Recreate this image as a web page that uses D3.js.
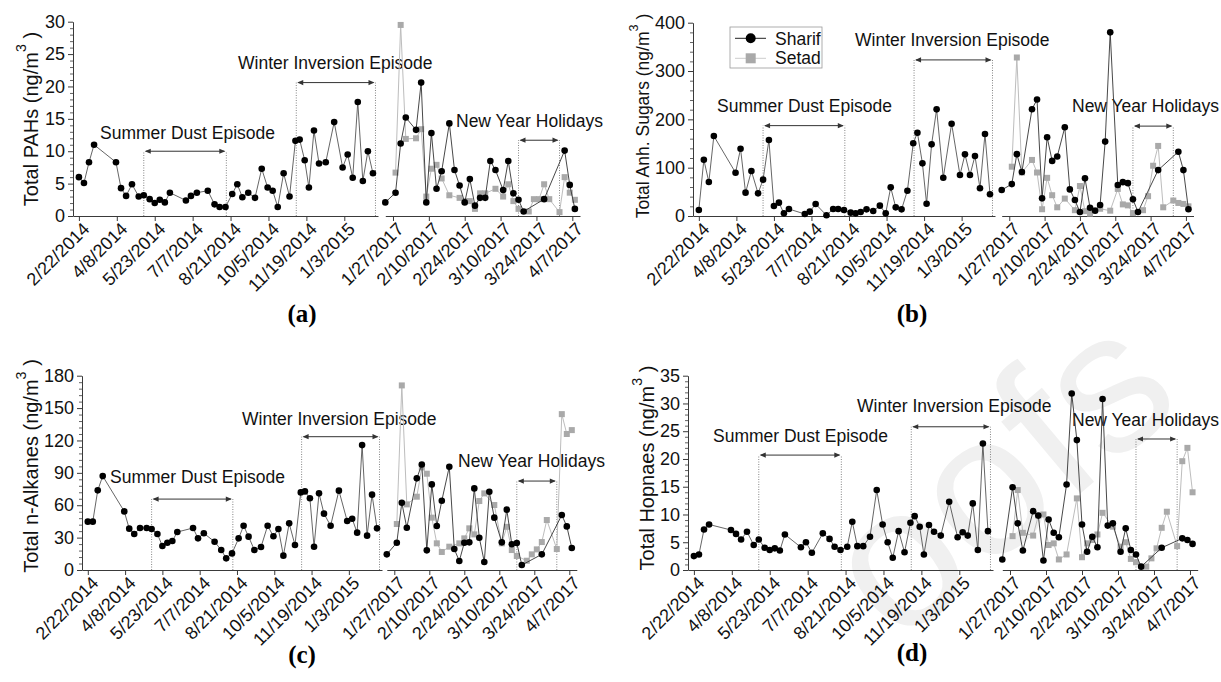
<!DOCTYPE html>
<html>
<head>
<meta charset="utf-8">
<script src="https://cdn.jsdelivr.net/npm/d3@7"></script>
<style>
  body { margin: 0; background: #fff; }
  svg { font-family: "Liberation Sans", Arial, sans-serif; }
</style>
</head>
<body>
<svg id="chart" width="1221" height="682"></svg>
<script>
// ---- sampling dates ----
var dates2014 = ["2014-02-22","2014-02-28","2014-03-06","2014-03-12","2014-04-07","2014-04-13","2014-04-19","2014-04-26",
  "2014-05-04","2014-05-10","2014-05-17","2014-05-23","2014-05-29","2014-06-04","2014-06-10","2014-06-29","2014-07-05",
  "2014-07-12","2014-07-25","2014-08-02","2014-08-08","2014-08-15","2014-08-23","2014-08-29","2014-09-04","2014-09-11",
  "2014-09-19","2014-09-27","2014-10-04","2014-10-10","2014-10-16","2014-10-23","2014-10-30","2014-11-06","2014-11-11",
  "2014-11-17","2014-11-22","2014-11-28","2014-12-04","2014-12-12","2014-12-22","2015-01-01","2015-01-07","2015-01-13",
  "2015-01-19","2015-01-25","2015-01-31","2015-02-06"];
var sharifDates2017 = ["2017-01-24","2017-01-28","2017-01-30","2017-02-01","2017-02-05","2017-02-07","2017-02-09","2017-02-11",
  "2017-02-13","2017-02-15","2017-02-18","2017-02-20","2017-02-22","2017-02-24","2017-02-26","2017-02-28","2017-03-02",
  "2017-03-04","2017-03-06","2017-03-08","2017-03-11","2017-03-13","2017-03-15","2017-03-17","2017-03-19","2017-03-27",
  "2017-04-04","2017-04-06","2017-04-08"];
var setadDates2017 = ["2017-01-28","2017-01-30","2017-02-01","2017-02-05","2017-02-07","2017-02-09","2017-02-11","2017-02-13",
  "2017-02-15","2017-02-18","2017-02-22","2017-02-24","2017-02-26","2017-02-28","2017-03-02","2017-03-04","2017-03-08",
  "2017-03-11","2017-03-13","2017-03-15","2017-03-17","2017-03-21","2017-03-23","2017-03-25","2017-03-27","2017-03-29",
  "2017-04-02","2017-04-04","2017-04-06","2017-04-08"];

var ticks2014 = ["2/22/2014","4/8/2014","5/23/2014","7/7/2014","8/21/2014","10/5/2014","11/19/2014","1/3/2015"];
var ticks2017 = ["1/27/2017","2/10/2017","2/24/2017","3/10/2017","3/24/2017","4/7/2017"];

// episodes: label, start, end
var episodes = [
  ["Summer Dust Episode", "2014-05-10", "2014-08-16"],
  ["Winter Inversion Episode", "2014-11-07", "2015-02-09"],
  ["New Year Holidays", "2017-03-17", "2017-04-02"]
];

// ---- values ----
var pahs2014 = [6.0,5.1,8.3,11.0,8.3,4.3,3.1,4.9,3.0,3.2,2.6,2.0,2.5,2.1,3.6,2.4,3.1,3.6,3.9,1.8,1.4,1.4,3.4,4.9,
  2.9,3.6,2.8,7.3,4.4,3.9,1.4,6.6,3.0,11.6,11.8,8.6,4.4,13.2,8.1,8.3,14.5,7.5,9.5,5.9,17.6,5.4,10.0,6.6];
var pahsSharif2017 = [2.1,3.6,11.2,15.2,13.3,20.6,2.1,12.8,4.2,6.9,14.3,7.1,4.7,2.1,5.7,1.6,2.8,2.8,8.5,7.1,4.0,8.5,
  3.5,2.5,0.7,2.6,10.1,4.8,1.1];
var pahsSetad2017 = [6.7,29.5,11.9,12.0,13.4,3.0,7.3,7.9,5.8,3.2,2.8,2.3,2.3,1.1,3.5,3.5,4.2,3.0,4.9,2.3,1.1,0.7,
  2.6,2.6,4.9,2.6,0.6,6.0,3.6,2.5];

var sugars2014 = [12.4,116.5,70.3,165.5,89.6,139.3,48.3,93.1,46.9,75.2,157.2,20.7,27.6,5.5,14.5,4.1,9,24.8,1.4,14.5,
  14.5,12.4,6.9,5.5,8.3,13.8,10.3,21.4,5.5,59.3,17.9,13.8,52.4,150.4,172.4,109,25.5,148.3,220.7,79.3,191,84.8,127.6,
  84.8,124.1,57.3,169.7,44.9];
var sugarsSharif2017 = [53.8,66,128,91,221,241,36.5,163,114,123,183.5,55,33,8.3,78,17,11,22.8,154,380,64,70,68,34.5,
  8.3,95,133,95,14];
var sugarsSetad2017 = [102,328,90,116,90,14,79,43,18,36,12,62,10,5,12,15,11,56,24,22,6,12,41,104,145,18,32,27,25,20];

var alkanes2014 = [44.8,44.8,73.8,87,54.3,38.3,33.3,38.9,38.9,38,33.3,22.2,25.3,26.9,35.2,38.9,29.3,34,26.2,18.5,
  10.8,15.4,29.3,41,30.9,18.5,21.3,41,31.2,38,13.3,43.2,23.1,71.9,72.8,66.4,21.6,71,52.2,41,73.5,45.4,47.5,34.6,
  115.7,31.8,69.8,38.6];
var alkanesSharif2017 = [14.5,25.3,62.3,39.2,84.9,97.8,18.2,79.3,40.7,64.2,95.7,19.4,8.3,25.3,25.6,75.6,29.9,7.4,
  72.5,48.5,25.6,55.9,23.8,25,4.6,14.5,50.9,40.4,20.4];
var alkanesSetad2017 = [42.6,171,60.8,67.9,95,89.2,48.5,24.7,16.7,21.6,24.7,29.3,38.6,33,63.9,71,60.2,24.7,40,18.5,
  13,8.6,14.5,19.1,25.9,46.3,19.4,144.4,126,129.6];

var hopanes2014 = [2.5,2.8,7.3,8.2,7.2,6.5,5.5,6.9,4.5,5.5,4.0,3.6,3.9,3.5,6.4,4.1,5.0,3.1,6.6,5.6,4.2,3.6,4.2,8.7,
  4.3,4.3,6.0,14.4,8.2,5.0,2.2,7.0,3.2,8.5,9.7,7.8,2.8,8.1,6.9,6.2,12.3,5.9,6.8,6.2,12.0,3.6,22.8,7.0];
var hopanesSharif2017 = [1.9,14.9,8.4,3.5,10.6,9.8,1.7,9.1,6.7,5.9,15.4,31.8,23.4,8.2,3.3,6.0,4.1,30.8,8.0,8.4,3.3,
  7.5,3.6,2.8,0.6,4.0,5.7,5.4,4.7];
var hopanesSetad2017 = [6.1,14.4,6.7,6.2,9.8,10.0,4.5,4.8,1.9,2.8,12.9,2.3,4.8,5.4,6.4,10.3,7.8,4.2,5.0,2.0,1.4,0.6,
  2.1,3.9,7.6,10.5,4.3,19.6,22.0,14.0];

// ---- panel layout ----
var panels = [
  { tag: "(a)", title: "Total PAHs (ng/m", titleSize: 20, titleX: 38, titleY: 119,
    s14: pahs2014, s17: pahsSharif2017, t17: pahsSetad2017,
    yMax: 30, yStep: 5, yMinor: 1, y0: 216, y1: 21.7,
    left: [73, 378], right: [385.3, 580], tagX: 302, tagY: 322,
    notes: [[10, 100, 139], [20.6, 238, 69], [11.7, 456, 127]] },
  { tag: "(b)", title: "Total Anh. Sugars (ng/m", titleSize: 17.5, titleX: 649, titleY: 116,
    s14: sugars2014, s17: sugarsSharif2017, t17: sugarsSetad2017,
    yMax: 400, yStep: 100, yMinor: 20, y0: 216, y1: 22.7,
    left: [693, 995], right: [1001.7, 1193.5], tagX: 912, tagY: 322, legend: true,
    notes: [[187, 717, 112], [323, 855, 45.5], [186, 1072, 112]] },
  { tag: "(c)", title: "Total n-Alkanes (ng/m", titleSize: 20, titleX: 38, titleY: 466,
    s14: alkanes2014, s17: alkanesSharif2017, t17: alkanesSetad2017,
    yMax: 180, yStep: 30, yMinor: 6, y0: 570, y1: 375.7,
    left: [82, 382], right: [386.8, 576.8], tagX: 302, tagY: 663,
    notes: [[65.7, 110, 483], [123.5, 242, 425], [82.4, 458, 467]] },
  { tag: "(d)", title: "Total Hopnaes (ng/m", titleSize: 20, titleX: 654, titleY: 468,
    s14: hopanes2014, s17: hopanesSharif2017, t17: hopanesSetad2017,
    yMax: 35, yStep: 5, yMinor: 1, y0: 570, y1: 375.7,
    left: [688, 993], right: [1002.3, 1197.7], tagX: 912, tagY: 661,
    notes: [[20.7, 713, 442], [25.8, 857, 412], [23.6, 1072, 426]] }
];

var parseISO = d3.utcParse("%Y-%m-%d");
var parseLabel = d3.utcParse("%m/%d/%Y");
var domain14 = [parseISO("2014-02-15"), parseISO("2015-02-12")];
var domain17 = [parseISO("2017-01-24"), parseISO("2017-04-10")];

var svg = d3.select("#chart");

// faint "Proofs" watermark, only the glyphs that fall on the page
var wmSize = 200, wmAngle = 40, wmOrigin = [965, 590];
var wmLetters = [["o", -89], ["o", 22], ["f", 133], ["s", 189]];
var ca = Math.cos(wmAngle * Math.PI / 180), sa = Math.sin(wmAngle * Math.PI / 180);
wmLetters.forEach(function(l) {
  svg.append("text")
    .attr("transform", "translate(" + (wmOrigin[0] + l[1] * ca) + "," + (wmOrigin[1] - l[1] * sa) + ") rotate(-" + wmAngle + ")")
    .attr("fill", "#f0f0f0")
    .style("font-size", wmSize + "px")
    .text(l[0]);
});

var axisColor = "#3a3a3a";

panels.forEach(function(p) {
  var g = svg.append("g");
  var xL = d3.scaleUtc().domain(domain14).range(p.left);
  var xR = d3.scaleUtc().domain(domain17).range(p.right);
  var y = d3.scaleLinear().domain([0, p.yMax]).range([p.y0, p.y1]);

  // y axis (major + minor)
  var minorVals = d3.range(0, p.yMax + 0.001, p.yMinor).filter(function(v) { return Math.abs(v % p.yStep) > 1e-6; });
  g.append("g").attr("transform", "translate(" + p.left[0] + ",0)")
    .call(d3.axisLeft(y).tickValues(minorVals).tickSize(3).tickSizeOuter(0).tickFormat(""))
    .call(function(a) { a.select(".domain").remove(); a.selectAll("line").attr("stroke", axisColor).attr("stroke-width", 0.8); });
  g.append("g").attr("transform", "translate(" + p.left[0] + ",0)")
    .call(d3.axisLeft(y).tickValues(d3.range(0, p.yMax + 0.001, p.yStep)).tickSize(5).tickSizeOuter(0).tickPadding(3))
    .call(function(a) {
      a.select(".domain").attr("stroke", axisColor);
      a.selectAll("line").attr("stroke", axisColor);
      a.selectAll("text").attr("fill", "#111").style("font-size", "18px").style("font-family", "Liberation Sans, Arial, sans-serif");
    });

  // x axes
  function xAxis(scale, labels) {
    var ax = g.append("g").attr("transform", "translate(0," + p.y0 + ")")
      .call(d3.axisBottom(scale)
        .tickValues(labels.map(parseLabel))
        .tickFormat(function(d, i) { return labels[i]; })
        .tickSize(5).tickSizeOuter(0));
    ax.select(".domain").attr("stroke", axisColor);
    ax.selectAll("line").attr("stroke", axisColor);
    ax.selectAll("text")
      .attr("text-anchor", "end")
      .attr("x", 3).attr("y", 0).attr("dy", "0.72em")
      .attr("transform", "translate(0,7) rotate(-45)")
      .attr("fill", "#111")
      .style("font-size", "18px")
      .style("font-family", "Liberation Sans, Arial, sans-serif");
  }
  xAxis(xL, ticks2014);
  xAxis(xR, ticks2017);

  // episodes
  p.notes.forEach(function(n, i) {
    var ep = episodes[i];
    var sc = i < 2 ? xL : xR;
    var xa = sc(parseISO(ep[1])), xb = sc(parseISO(ep[2]));
    var ya = y(n[0]);
    [xa, xb].forEach(function(xx) {
      g.append("line").attr("x1", xx).attr("x2", xx).attr("y1", p.y0).attr("y2", ya)
        .attr("stroke", "#777").attr("stroke-width", 0.9).attr("stroke-dasharray", "1,1.5");
    });
    g.append("line").attr("x1", xa + 2).attr("x2", xb - 2).attr("y1", ya).attr("y2", ya)
      .attr("stroke", "#333").attr("stroke-width", 1);
    g.append("path").attr("d", "M" + (xa + 1) + "," + ya + "l6,-2.6v5.2z").attr("fill", "#333");
    g.append("path").attr("d", "M" + (xb - 1) + "," + ya + "l-6,-2.6v5.2z").attr("fill", "#333");
    g.append("text").attr("x", n[1]).attr("y", n[2]).attr("fill", "#111")
      .style("font-size", "17.5px").text(ep[0]);
  });

  // series
  var line14 = d3.line().x(function(d) { return xL(d.date); }).y(function(d) { return y(d.v); });
  var line17 = d3.line().x(function(d) { return xR(d.date); }).y(function(d) { return y(d.v); });
  var s14 = dates2014.map(function(d, i) { return { date: parseISO(d), v: p.s14[i] }; });
  var s17 = sharifDates2017.map(function(d, i) { return { date: parseISO(d), v: p.s17[i] }; });
  var t17 = setadDates2017.map(function(d, i) { return { date: parseISO(d), v: p.t17[i] }; });

  g.append("path").datum(t17).attr("d", line17).attr("fill", "none").attr("stroke", "#bdbdbd").attr("stroke-width", 1);
  g.selectAll(null).data(t17).enter().append("rect")
    .attr("x", function(d) { return xR(d.date) - 3; }).attr("y", function(d) { return y(d.v) - 3; })
    .attr("width", 6).attr("height", 6).attr("fill", "#a9a9a9");

  g.append("path").datum(s14).attr("d", line14).attr("fill", "none").attr("stroke", "#555").attr("stroke-width", 0.9);
  g.append("path").datum(s17).attr("d", line17).attr("fill", "none").attr("stroke", "#333").attr("stroke-width", 0.9);
  g.selectAll(null).data(s14).enter().append("circle")
    .attr("cx", function(d) { return xL(d.date); }).attr("cy", function(d) { return y(d.v); })
    .attr("r", 3.3).attr("fill", "#000");
  g.selectAll(null).data(s17).enter().append("circle")
    .attr("cx", function(d) { return xR(d.date); }).attr("cy", function(d) { return y(d.v); })
    .attr("r", 3.3).attr("fill", "#000");

  // y title
  var t = g.append("text")
    .attr("transform", "translate(" + p.titleX + "," + p.titleY + ") rotate(-90)")
    .attr("text-anchor", "middle").attr("fill", "#111")
    .style("font-size", p.titleSize + "px");
  t.append("tspan").text(p.title);
  t.append("tspan").attr("dy", -p.titleSize * 0.62).style("font-size", (p.titleSize * 0.72) + "px").text("3");
  t.append("tspan").attr("dy", p.titleSize * 0.62).text(" )");

  // panel tag
  g.append("text").attr("x", p.tagX).attr("y", p.tagY).attr("text-anchor", "middle")
    .style("font-family", "Liberation Serif, Times New Roman, serif").style("font-weight", "bold")
    .style("font-size", "25px").attr("fill", "#000").text(p.tag);

  // legend
  if (p.legend) {
    var lg = g.append("g");
    lg.append("rect").attr("x", 730).attr("y", 27).attr("width", 92).attr("height", 41)
      .attr("fill", "#fff").attr("stroke", "#999").attr("stroke-width", 0.8);
    lg.append("line").attr("x1", 735).attr("x2", 766).attr("y1", 38.3).attr("y2", 38.3).attr("stroke", "#222");
    lg.append("circle").attr("cx", 750.7).attr("cy", 38.3).attr("r", 5).attr("fill", "#000");
    lg.append("line").attr("x1", 735).attr("x2", 766).attr("y1", 58.3).attr("y2", 58.3).attr("stroke", "#ccc");
    lg.append("rect").attr("x", 745.7).attr("y", 53.3).attr("width", 10).attr("height", 10).attr("fill", "#a9a9a9");
    lg.append("text").attr("x", 775).attr("y", 44.5).style("font-size", "17.5px").attr("fill", "#111").text("Sharif");
    lg.append("text").attr("x", 775).attr("y", 63.5).style("font-size", "17.5px").attr("fill", "#111").text("Setad");
  }
});
</script>
</body>
</html>
